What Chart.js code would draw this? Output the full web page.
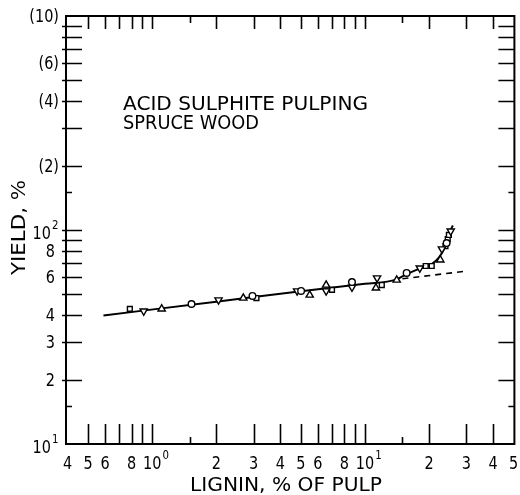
<!DOCTYPE html>
<html>
<head>
<meta charset="utf-8">
<script src="https://cdn.jsdelivr.net/npm/chart.js@4.4.1/dist/chart.umd.min.js"></script>
<style>
  html, body { margin: 0; padding: 0; background: #fff; }
  #wrap { width: 520px; height: 495px; }
</style>
</head>
<body>
<div id="wrap"><canvas id="c" width="520" height="495"></canvas></div>
<script>
// Yield vs. residual lignin, acid sulphite pulping of spruce wood
const circleLignin = [1.53, 2.96, 5.01, 8.69, 15.7, 24.2];
const circleYield  = [45.1, 49.2, 51.9, 57.1, 63.0, 86.9];

const downLignin = [0.912, 2.05, 4.80, 6.57, 8.69, 11.4, 18.1, 23.0, 25.3];
const downYield  = [41.8, 47.1, 51.9, 51.9, 54.0, 59.7, 66.4, 81.5, 98.9];

const upLignin = [1.108, 2.68, 5.5, 6.57, 11.26, 14.1, 22.6];
const upYield  = [42.8, 48.1, 49.7, 55.3, 53.6, 58.4, 72.5];

const squareLignin = [0.785, 3.09, 7.0, 12.0, 19.3, 20.6, 23.9, 24.5, 24.8];
const squareYield  = [42.8, 48.1, 52.5, 55.3, 67.9, 67.9, 84.1, 90.7, 94.8];

// fitted curve through the data
const curveLignin = [0.59, 2.0, 5.0, 10.0, 14.0, 15.7, 18.3, 20.6, 22.2, 23.4, 24.5, 25.3, 25.9];
const curveYield  = [39.9, 46.2, 51.8, 56.1, 58.6, 62.2, 66.4, 69.3, 74.0, 80.6, 89.7, 100, 105];

// extrapolated straight line
const dashLignin = [15.0, 29.1];
const dashYield  = [59.2, 64.0];

// axis ticks and labels
const xMajorTicks = [0.5, 0.6, 0.7, 0.8, 0.9, 1, 2, 3, 4, 5, 6, 7, 8, 9, 10, 20, 30, 40];
const xMinorTicks = [1.5, 15];
const xTickLabels = [[0.4,'4'],[0.5,'5'],[0.6,'6'],[0.8,'8'],[1,'10','0'],[2,'2'],[3,'3'],[4,'4'],
                     [5,'5'],[6,'6'],[8,'8'],[10,'10','1'],[20,'2'],[30,'3'],[40,'4'],[50,'5']];
const yMajorTicks = [20, 30, 40, 50, 60, 70, 80, 90, 100, 200, 300, 400, 500, 600, 700, 800, 900];
const yMinorTicks = [15, 150];
const yTickLabels = [[10,'10','1'],[20,'2'],[30,'3'],[40,'4'],[60,'6'],[80,'8'],[100,'10','2'],
                     [200,'(2)'],[400,'(4)'],[600,'(6)'],[1000,'(10)']];

const xTitle = 'LIGNIN, % OF PULP';
const yTitle = 'YIELD, %';
const noteLines = ['ACID SULPHITE PULPING', 'SPRUCE WOOD'];

const toPts = (xs, ys) => xs.map((x, i) => ({ x: x, y: ys[i] }));
const FONT = '"DejaVu Sans", sans-serif';

function drawText(ctx, s, x, y, size, align, sx, width) {
  ctx.save();
  ctx.font = size + 'px ' + FONT;
  ctx.textBaseline = 'alphabetic';
  ctx.textAlign = 'left';
  const w = ctx.measureText(s).width;
  const k = width ? width / w : sx;
  let x0 = x;
  if (align === 'center') x0 = x - w * k / 2;
  else if (align === 'right') x0 = x - w * k;
  ctx.translate(x0, y);
  ctx.scale(k, 1);
  ctx.fillText(s, 0, 0);
  ctx.restore();
  return w * k;
}

const axesPlugin = {
  id: 'paperAxes',
  afterDatasetsDraw(chart) {
    const ctx = chart.ctx;
    const a = chart.chartArea;
    const xs = chart.scales.x, ys = chart.scales.y;
    ctx.save();
    ctx.strokeStyle = '#000';
    ctx.fillStyle = '#000';
    ctx.lineCap = 'butt';

    // frame
    ctx.lineWidth = 2;
    ctx.strokeRect(a.left, a.top, a.right - a.left, a.bottom - a.top);

    // ticks, all pointing inward
    ctx.lineWidth = 1.6;
    ctx.beginPath();
    xMajorTicks.forEach(v => {
      const p = Math.round(xs.getPixelForValue(v)) + 0.5;
      ctx.moveTo(p, a.bottom); ctx.lineTo(p, a.bottom - 20);
      ctx.moveTo(p, a.top); ctx.lineTo(p, a.top + 13);
    });
    xMinorTicks.forEach(v => {
      const p = Math.round(xs.getPixelForValue(v)) + 0.5;
      ctx.moveTo(p, a.bottom); ctx.lineTo(p, a.bottom - 7);
      ctx.moveTo(p, a.top); ctx.lineTo(p, a.top + 7);
    });
    yMajorTicks.forEach(v => {
      const p = Math.round(ys.getPixelForValue(v)) + 0.5;
      ctx.moveTo(a.left - 4, p); ctx.lineTo(a.left + 16, p);
      ctx.moveTo(a.right, p); ctx.lineTo(a.right - 16, p);
    });
    yMinorTicks.forEach(v => {
      const p = Math.round(ys.getPixelForValue(v)) + 0.5;
      ctx.moveTo(a.left, p); ctx.lineTo(a.left + 6, p);
      ctx.moveTo(a.right, p); ctx.lineTo(a.right - 6, p);
    });
    ctx.stroke();

    // bottom tick labels
    xTickLabels.forEach(t => {
      const p = xs.getPixelForValue(t[0]);
      if (t[2]) {
        const w = drawText(ctx, t[1], p, a.bottom + 25, 17, 'center', 0.85);
        drawText(ctx, t[2], p + w / 2 + 1, a.bottom + 15, 12, 'left', 0.85);
      } else {
        drawText(ctx, t[1], p, a.bottom + 25, 17, 'center', 0.85);
      }
    });

    // left tick labels
    yTickLabels.forEach(t => {
      const p = ys.getPixelForValue(t[0]);
      if (t[2]) {
        drawText(ctx, t[1], a.left - 15, p + 9, 17, 'right', 0.85);
        drawText(ctx, t[2], a.left - 14, p - 1, 12, 'left', 0.85);
      } else if (t[1].charAt(0) === '(') {
        drawText(ctx, t[1], a.left - 7, p + 6, 17, 'right', 0.85);
      } else {
        drawText(ctx, t[1], a.left - 11, p + 6, 17, 'right', 0.85);
      }
    });

    // axis titles
    drawText(ctx, xTitle, 190, 491, 20, 'left', 1, 192);
    ctx.save();
    ctx.translate(25, 275);
    ctx.rotate(-Math.PI / 2);
    drawText(ctx, yTitle, 0, 0, 20, 'left', 1, 95);
    ctx.restore();

    // annotation
    drawText(ctx, noteLines[0], 123, 110, 20, 'left', 1, 245);
    drawText(ctx, noteLines[1], 123, 129, 20, 'left', 1, 136);

    ctx.restore();
  }
};

const markerBase = {
  type: 'scatter',
  showLine: false,
  borderColor: '#000',
  backgroundColor: '#fff',
  borderWidth: 1.4,
  order: 1
};

new Chart(document.getElementById('c'), {
  type: 'scatter',
  data: {
    datasets: [
      Object.assign({}, markerBase, { label: 'o', data: toPts(circleLignin, circleYield), pointStyle: 'circle', pointRadius: 3.3 }),
      Object.assign({}, markerBase, { label: 'v', data: toPts(downLignin, downYield), pointStyle: 'triangle', rotation: 180, pointRadius: 4.2 }),
      Object.assign({}, markerBase, { label: '^', data: toPts(upLignin, upYield), pointStyle: 'triangle', pointRadius: 4.2 }),
      Object.assign({}, markerBase, { label: 's', data: toPts(squareLignin, squareYield), pointStyle: 'rect', pointRadius: 3.4 }),
      {
        type: 'line', label: 'curve', data: toPts(curveLignin, curveYield),
        borderColor: '#000', borderWidth: 2, pointRadius: 0, fill: false,
        cubicInterpolationMode: 'monotone', order: 2
      },
      {
        type: 'line', label: 'extrapolation', data: toPts(dashLignin, dashYield),
        borderColor: '#000', borderWidth: 1.6, borderDash: [6, 5], pointRadius: 0, fill: false, order: 2
      }
    ]
  },
  options: {
    responsive: false,
    animation: false,
    layout: { padding: { left: 66, right: 4, top: 16, bottom: 51 } },
    plugins: { legend: { display: false }, tooltip: { enabled: false } },
    scales: {
      x: { type: 'logarithmic', min: 0.3934, max: 50.4, display: false },
      y: { type: 'logarithmic', min: 10, max: 1000, display: false }
    }
  },
  plugins: [axesPlugin]
});
</script>
</body>
</html>
